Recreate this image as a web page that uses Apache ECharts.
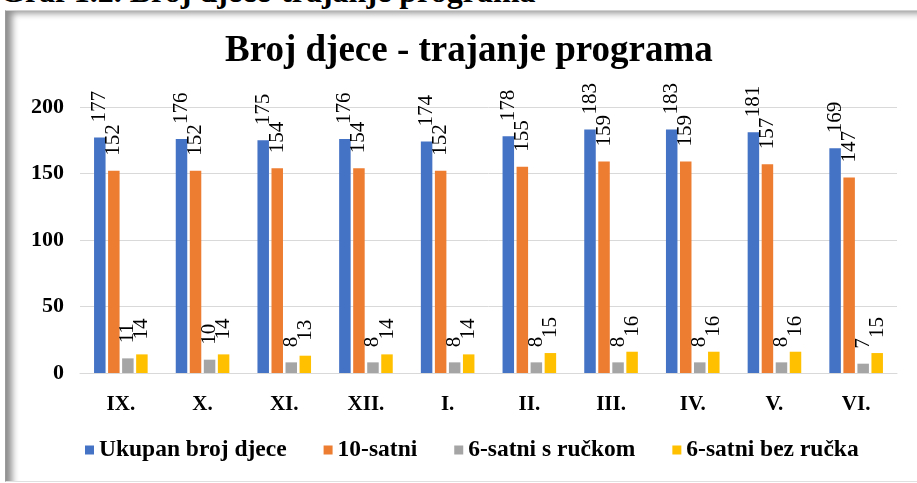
<!DOCTYPE html>
<html>
<head>
<meta charset="utf-8">
<script src="https://cdn.jsdelivr.net/npm/echarts@6/dist/echarts.min.js"></script>
<style>
html, body { margin: 0; padding: 0; background: #fff; overflow: hidden; }
.caption {
    position: absolute; left: 0; top: -27px;
    font: bold 32px "Liberation Serif", serif; color: #000; white-space: nowrap;
}
.frame {
    position: absolute; left: 5px; top: 10px; width: 930px; height: 470px;
    border-top: 1px solid #d0d0d0; border-left: 1px solid #9a9a9a; border-bottom: 1px solid #e0e0e0;
    box-shadow: inset 9px 5px 7px -3px rgba(0,0,0,0.45);
}
#chart { position: absolute; left: 0; top: 0; width: 917px; height: 483px; }
</style>
</head>
<body>
<div class="caption">Graf 1.2. Broj djece-trajanje programa</div>
<div class="frame"></div>
<div id="chart"></div>
<script>
// mjeseci
const months = ['IX.', 'X.', 'XI.', 'XII.', 'I.', 'II.', 'III.', 'IV.', 'V.', 'VI.'];
const ukupno = [177, 176, 175, 176, 174, 178, 183, 183, 181, 169];
const desetSatni = [152, 152, 154, 154, 152, 155, 159, 159, 157, 147];
const sRuckom = [11, 10, 8, 8, 8, 8, 8, 8, 8, 7];
const bezRucka = [14, 14, 13, 14, 14, 15, 16, 16, 16, 15];
const yTicks = [0, 50, 100, 150, 200];

const serif = '"Liberation Serif", "Times New Roman", serif';

const chart = echarts.init(document.getElementById('chart'));

function makeSeries(name, data, color) {
    return {
        name: name,
        type: 'bar',
        data: data,
        barWidth: 11.5,
        barGap: '22%',
        itemStyle: { color: color },
        label: {
            show: true,
            position: 'top',
            rotate: 90,
            align: 'left',
            verticalAlign: 'middle',
            distance: 15,
            fontFamily: serif,
            fontSize: 21,
            color: '#000'
        }
    };
}

chart.setOption({
    animation: false,
    title: {
        text: 'Broj djece - trajanje programa',
        left: 220,
        top: 28,
        textStyle: { fontFamily: serif, fontWeight: 'bold', fontSize: 37, color: '#000' }
    },
    legend: {
        bottom: 16,
        left: 80,
        itemWidth: 9,
        itemHeight: 9,
        itemGap: 37,
        icon: 'rect',
        textStyle: { fontFamily: serif, fontWeight: 'bold', fontSize: 23.5, color: '#000' }
    },
    grid: { left: 80, right: 20, top: 107, bottom: 110 },
    xAxis: {
        type: 'category',
        data: months,
        axisTick: { show: false },
        axisLine: { lineStyle: { color: '#d9d9d9', width: 1 } },
        axisLabel: { margin: 21, fontFamily: serif, fontWeight: 'bold', fontSize: 21, color: '#000' }
    },
    yAxis: {
        type: 'value',
        min: yTicks[0],
        max: yTicks[yTicks.length - 1],
        interval: 50,
        axisLine: { show: false },
        axisTick: { show: false },
        splitLine: { lineStyle: { color: '#d9d9d9', width: 1 } },
        axisLabel: { margin: 16, fontFamily: serif, fontWeight: 'bold', fontSize: 22, color: '#000' }
    },
    series: [
        makeSeries('Ukupan broj djece', ukupno, '#4472C4'),
        makeSeries('10-satni', desetSatni, '#ED7D31'),
        makeSeries('6-satni s ručkom', sRuckom, '#A5A5A5'),
        makeSeries('6-satni bez ručka', bezRucka, '#FFC000')
    ]
});
</script>
</body>
</html>
